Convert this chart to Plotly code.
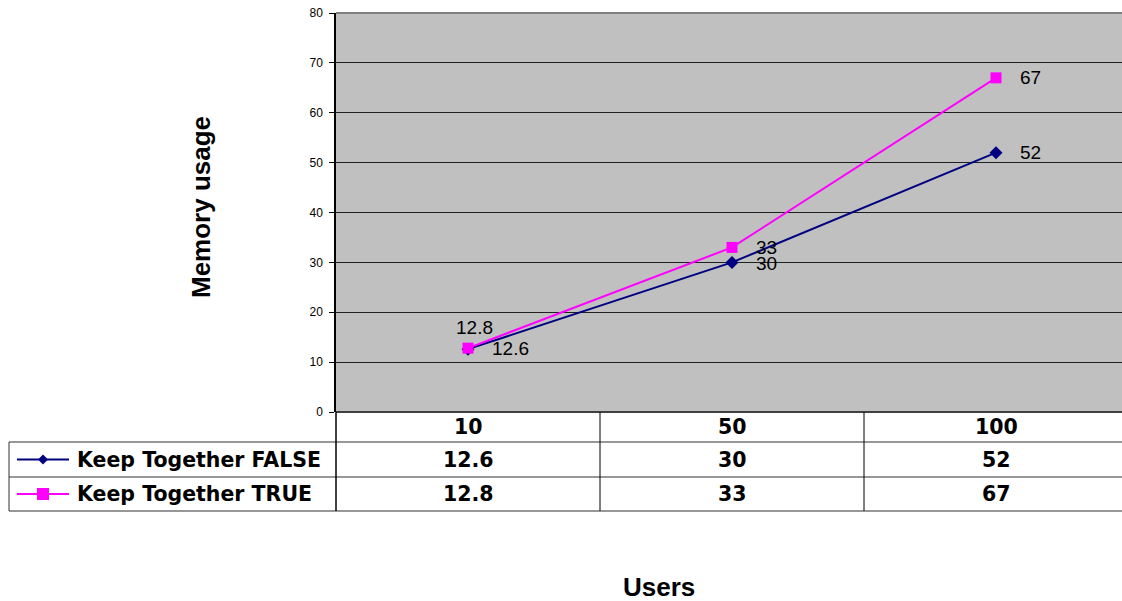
import plotly.graph_objects as go

# ---------------- data ----------------
users = ["10", "50", "100"]
series_names = ["Keep Together FALSE", "Keep Together TRUE"]
keep_false = [12.6, 30, 52]
keep_true = [12.8, 33, 67]
y_ticks = [0, 10, 20, 30, 40, 50, 60, 70, 80]
y_title = "Memory usage"
x_title = "Users"

# ---------------- style ----------------
W, H = 1122, 601
NAVY = "#000080"
MAG = "#FF00FF"
FONT = "Arial, Liberation Sans, sans-serif"
TFONT = "Verdana, DejaVu Sans, sans-serif"
TSIZE = 20.5

PLOT_L, PLOT_T, PLOT_B = 336, 13, 412
ROW_LINES = [442, 477, 511]
TABLE_L = 9

def px(x):
    return x / W

def py(y):
    return 1 - y / H

cat_w = 264
x_range = [-0.5, -0.5 + (W - PLOT_L) / cat_w]

fig = go.Figure()

series = [
    (series_names[0], keep_false, NAVY, "diamond", 10),
    (series_names[1], keep_true, MAG, "square", 11),
]
for name, vals, col, sym, ms in series:
    fig.add_trace(go.Scatter(
        x=list(range(len(users))), y=vals, mode="lines+markers", name=name,
        line=dict(color=col, width=2),
        marker=dict(symbol=sym, size=ms, color=col, line=dict(width=0)),
        showlegend=False, cliponaxis=False, hoverinfo="skip",
    ))

annotations = []
shapes = []

# data labels (offsets are pure styling)
label_offsets = [
    [(22, 1, "left"), (22, -1, "left"), (22, 0, "left")],
    [(6, 21, "center"), (22, 0, "left"), (22, 0, "left")],
]
for si, (name, vals, col, sym, ms) in enumerate(series):
    for i, v in enumerate(vals):
        dx, dy, xa = label_offsets[si][i]
        annotations.append(dict(
            x=i, y=v, xref="x", yref="y", text=f"{v:g}", showarrow=False,
            xanchor=xa, yanchor="middle", xshift=dx, yshift=dy,
            font=dict(family=FONT, size=19, color="black"),
        ))

# plot frame lines
shapes.append(dict(type="line", xref="paper", yref="paper",
                   x0=px(PLOT_L), x1=1, y0=py(PLOT_T), y1=py(PLOT_T),
                   line=dict(color="#808080", width=2)))
shapes.append(dict(type="line", xref="paper", yref="paper",
                   x0=px(PLOT_L), x1=1, y0=py(PLOT_B), y1=py(PLOT_B),
                   line=dict(color="#404040", width=2)))

# data table lines
for yy in ROW_LINES:
    shapes.append(dict(type="line", xref="paper", yref="paper",
                       x0=px(TABLE_L), x1=1,
                       y0=py(yy), y1=py(yy), line=dict(color="#303030", width=1)))
shapes.append(dict(type="line", xref="paper", yref="paper",
                   x0=px(TABLE_L), x1=px(TABLE_L), y0=py(ROW_LINES[0]), y1=py(ROW_LINES[-1]),
                   line=dict(color="#303030", width=1)))
shapes.append(dict(type="line", xref="paper", yref="paper",
                   x0=px(PLOT_L), x1=px(PLOT_L), y0=py(PLOT_B), y1=py(ROW_LINES[-1]),
                   line=dict(color="black", width=1.5)))
for b in range(len(users) - 1):
    shapes.append(dict(type="line", xref="x", yref="paper",
                       x0=b + 0.5, x1=b + 0.5, y0=py(PLOT_B), y1=py(ROW_LINES[-1]),
                       line=dict(color="black", width=1)))

# table header (categories)
row_centers = [(PLOT_B + ROW_LINES[0]) / 2, (ROW_LINES[0] + ROW_LINES[1]) / 2,
               (ROW_LINES[1] + ROW_LINES[2]) / 2]
for i, u in enumerate(users):
    annotations.append(dict(x=i, y=py(row_centers[0]), xref="x", yref="paper",
                            text=f"<b>{u}</b>", showarrow=False,
                            xanchor="center", yanchor="middle",
                            font=dict(family=TFONT, size=TSIZE, color="black")))
# table rows
for si, (name, vals, col, sym, ms) in enumerate(series):
    yc = row_centers[si + 1]
    for i, v in enumerate(vals):
        annotations.append(dict(x=i, y=py(yc), xref="x", yref="paper",
                                text=f"<b>{v:g}</b>", showarrow=False,
                                xanchor="center", yanchor="middle",
                                font=dict(family=TFONT, size=TSIZE, color="black")))
    annotations.append(dict(x=px(75), y=py(yc), xref="paper", yref="paper",
                            text=f"<b>{name}</b>", showarrow=False,
                            xanchor="left", yanchor="middle",
                            font=dict(family=TFONT, size=TSIZE, color="black")))
    # legend key
    shapes.append(dict(type="line", xref="paper", yref="paper",
                       x0=px(17), x1=px(69), y0=py(yc), y1=py(yc),
                       line=dict(color=col, width=2)))
    cx, cy = 43, yc
    if sym == "diamond":
        path = (f"M {px(cx-5)} {py(cy)} L {px(cx)} {py(cy-5)} "
                f"L {px(cx+5)} {py(cy)} L {px(cx)} {py(cy+5)} Z")
        shapes.append(dict(type="path", xref="paper", yref="paper", path=path,
                           fillcolor=col, line=dict(color=col, width=0)))
    else:
        shapes.append(dict(type="rect", xref="paper", yref="paper",
                           x0=px(cx - 6), x1=px(cx + 6), y0=py(cy + 6), y1=py(cy - 6),
                           fillcolor=col, line=dict(color=col, width=0)))

# axis titles
annotations.append(dict(x=px(201), y=py(207), xref="paper", yref="paper",
                        text=f"<b>{y_title}</b>", showarrow=False, textangle=-90,
                        xanchor="center", yanchor="middle",
                        font=dict(family=FONT, size=26, color="black")))
annotations.append(dict(x=px(659), y=py(587), xref="paper", yref="paper",
                        text=f"<b>{x_title}</b>", showarrow=False,
                        xanchor="center", yanchor="middle",
                        font=dict(family=FONT, size=26, color="black")))

fig.update_layout(
    width=W, height=H,
    margin=dict(l=0, r=0, t=0, b=0, pad=0, autoexpand=False),
    paper_bgcolor="white",
    plot_bgcolor="#C0C0C0",
    showlegend=False,
    xaxis=dict(domain=[px(PLOT_L), 1], range=x_range, showgrid=False,
               showticklabels=False, ticks="", zeroline=False, showline=False,
               fixedrange=True, automargin=False),
    yaxis=dict(domain=[py(PLOT_B), py(PLOT_T)], range=[0, 80], tickvals=y_ticks,
               ticktext=[str(t) for t in y_ticks],
               showgrid=True, gridcolor="#202020", gridwidth=1,
               ticks="outside", ticklen=5, tickcolor="black", tickwidth=1,
               showline=True, linecolor="black", linewidth=1.5,
               zeroline=False, ticklabelstandoff=4, automargin=False,
               tickfont=dict(family=FONT, size=12, color="black"),
               fixedrange=True),
    shapes=shapes,
    annotations=annotations,
)

fig.write_html(
    "out.html",
    config={"displayModeBar": False},
    post_script="document.body.style.margin='0';document.body.style.overflow='hidden';",
)
